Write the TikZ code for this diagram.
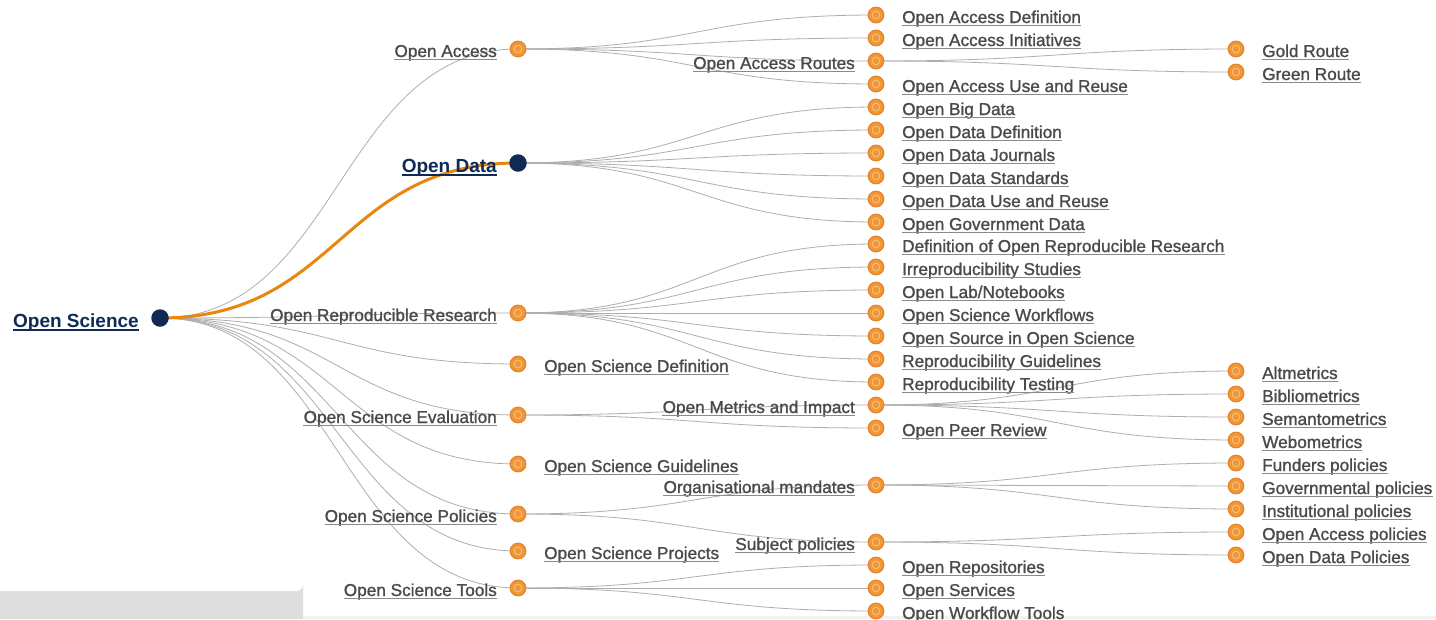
\documentclass[tikz,border=0pt]{standalone}
\usepackage{fontspec}
\setmainfont{Liberation Sans}
\newfontfamily\lblfont[FakeBold=1.2]{Liberation Sans}
\usetikzlibrary{calc}
\definecolor{lnkgray}{HTML}{AEAEAE}
\definecolor{txtgray}{HTML}{4A4A4A}
\definecolor{ulgray}{HTML}{8A8A8A}
\definecolor{navy}{HTML}{0E2A55}
\definecolor{dotfill}{HTML}{F09838}
\definecolor{dotedge}{HTML}{E8852A}
\definecolor{dotinner}{HTML}{F7BE80}
\definecolor{hiorange}{HTML}{E8860F}
\definecolor{panel}{HTML}{DEDEDE}
\pgfdeclarelayer{back}
\pgfdeclarelayer{bg}
\pgfsetlayers{back,bg,main}
\tikzset{
  dot/.style={circle, fill=dotfill, draw=dotedge, line width=1.3pt, minimum size=15.5pt, inner sep=0pt,
    path picture={\draw[dotinner, line width=0.9pt] (path picture bounding box.center) circle (3.8pt);}},
  navydot/.style={circle, fill=navy, minimum size=17.5pt, inner sep=0pt},
  lbl/.style={inner sep=0pt, text=txtgray, font=\lblfont\fontsize{17.2}{20}\selectfont},
  rootlbl/.style={inner sep=0pt, text=navy, font=\bfseries\fontsize{19}{22}\selectfont},
  uline/.style={draw=ulgray, line width=0.9pt},
  nline/.style={draw=navy, line width=1.1pt},
  lnk/.style={draw=lnkgray, line width=0.8pt},
  hilnk/.style={draw=hiorange, line width=3pt},
}
% name x y text
\newcommand\leafR[4]{%
  \node[dot] (#1) at (#2,#3) {};
  \node[lbl, anchor=base west] (#1t) at (#2+26,#3+8) {#4};
  \draw[uline] ([yshift=-2.6pt]#1t.base west) -- ([yshift=-2.6pt]#1t.base east);}
\newcommand\leafL[4]{%
  \node[dot] (#1) at (#2,#3) {};
  \node[lbl, anchor=base east] (#1t) at (#2-21,#3+8) {#4};
  \draw[uline] ([yshift=-2.6pt]#1t.base west) -- ([yshift=-2.6pt]#1t.base east);}
\newcommand\lnk[3][lnk]{%
  \begin{pgfonlayer}{bg}
  \draw[#1] let \p1=(#2), \p2=(#3), \p3=($(\p1)!0.5!(\p2)$) in
    (\p1) .. controls (\x3,\y1) and (\x3,\y2) .. (\p2);
  \end{pgfonlayer}}
\begin{document}
\begin{tikzpicture}[x=1pt,y=-1pt]
\useasboundingbox (0,0) rectangle (1436,619);
\begin{pgfonlayer}{back}
\fill[white] (0,0) rectangle (1436,619);
\fill[panel] (0,619) -- (0,591) -- (297,591) arc[start angle=90,end angle=0,radius=6] -- (303,619) -- cycle;
\fill[black!5] (303,615.5) rectangle (1436,619);
\end{pgfonlayer}

% root
\node[navydot] (os) at (160,318) {};
\node[rootlbl, anchor=base east] (ost0) at (139,327) {Open Science};
\draw[nline] ([yshift=-3pt]ost0.base west) -- ([yshift=-3pt]ost0.base east);

% level 1
\leafL{oa}{518}{49}{Open Access}
\node[navydot] (od) at (518,163) {};
\node[rootlbl, anchor=base east] (odt) at (497,172) {Open Data};
\draw[nline] ([yshift=-3pt]odt.base west) -- ([yshift=-3pt]odt.base east);
\leafL{orr}{518}{313}{Open Reproducible Research}
\leafR{osd}{518}{364}{Open Science Definition}
\leafL{ose}{518}{415}{Open Science Evaluation}
\leafR{osg}{518}{464}{Open Science Guidelines}
\leafL{osp}{518}{514}{Open Science Policies}
\leafR{ospr}{518}{551}{Open Science Projects}
\leafL{ostl}{518}{588}{Open Science Tools}

% level 2
\leafR{a1}{876}{15}{Open Access Definition}
\leafR{a2}{876}{38}{Open Access Initiatives}
\leafL{a3}{876}{61}{Open Access Routes}
\leafR{a4}{876}{84}{Open Access Use and Reuse}
\leafR{d1}{876}{107}{Open Big Data}
\leafR{d2}{876}{130}{Open Data Definition}
\leafR{d3}{876}{153}{Open Data Journals}
\leafR{d4}{876}{176}{Open Data Standards}
\leafR{d5}{876}{199}{Open Data Use and Reuse}
\leafR{d6}{876}{222}{Open Government Data}
\leafR{r1}{876}{244}{Definition of Open Reproducible Research}
\leafR{r2}{876}{267}{Irreproducibility Studies}
\leafR{r3}{876}{290}{Open Lab/Notebooks}
\leafR{r4}{876}{313}{Open Science Workflows}
\leafR{r5}{876}{336}{Open Source in Open Science}
\leafR{r6}{876}{359}{Reproducibility Guidelines}
\leafR{r7}{876}{382}{Reproducibility Testing}
\leafL{e1}{876}{405}{Open Metrics and Impact}
\leafR{e2}{876}{428}{Open Peer Review}
\leafL{p1}{876}{485}{Organisational mandates}
\leafL{p2}{876}{542}{Subject policies}
\leafR{t1}{876}{565}{Open Repositories}
\leafR{t2}{876}{588}{Open Services}
\leafR{t3}{876}{611}{Open Workflow Tools}

% level 3
\leafR{g1}{1236}{49}{Gold Route}
\leafR{g2}{1236}{72}{Green Route}
\leafR{m1}{1236}{371}{Altmetrics}
\leafR{m2}{1236}{394}{Bibliometrics}
\leafR{m3}{1236}{417}{Semantometrics}
\leafR{m4}{1236}{440}{Webometrics}
\leafR{f1}{1236}{463}{Funders policies}
\leafR{f2}{1236}{486}{Governmental policies}
\leafR{f3}{1236}{509}{Institutional policies}
\leafR{s1}{1236}{532}{Open Access policies}
\leafR{s2}{1236}{555}{Open Data Policies}

% links
\foreach \c in {oa,orr,osd,ose,osg,osp,ospr,ostl} {\lnk{os}{\c}}
\lnk[hilnk]{os}{od}
\foreach \c in {a1,a2,a3,a4} {\lnk{oa}{\c}}
\foreach \c in {d1,d2,d3,d4,d5,d6} {\lnk{od}{\c}}
\foreach \c in {r1,r2,r3,r4,r5,r6,r7} {\lnk{orr}{\c}}
\foreach \c in {e1,e2} {\lnk{ose}{\c}}
\foreach \c in {p1,p2} {\lnk{osp}{\c}}
\foreach \c in {t1,t2,t3} {\lnk{ostl}{\c}}
\foreach \c in {g1,g2} {\lnk{a3}{\c}}
\foreach \c in {m1,m2,m3,m4} {\lnk{e1}{\c}}
\foreach \c in {f1,f2,f3} {\lnk{p1}{\c}}
\foreach \c in {s1,s2} {\lnk{p2}{\c}}
\end{tikzpicture}
\end{document}
